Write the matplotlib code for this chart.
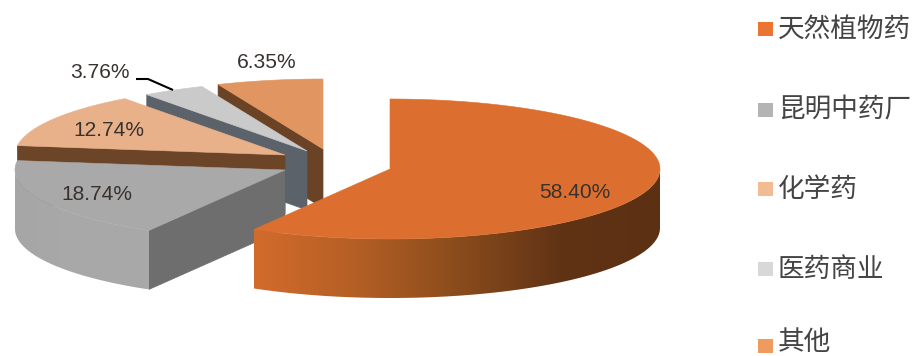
import numpy as np
import matplotlib
matplotlib.use("Agg")
import matplotlib.pyplot as plt
from matplotlib.colors import LinearSegmentedColormap
from matplotlib.patches import Polygon, Rectangle

plt.rcParams['font.family'] = ['Noto Sans CJK SC', 'DejaVu Sans']

categories = ['天然植物药', '昆明中药厂', '化学药', '医药商业', '其他']
shares = [58.40, 18.74, 12.74, 3.76, 6.35]

legend_colors = ['#ec7431', '#b4b4b4', '#f3bb92', '#d8d8d8', '#ef9a5e']
top_colors = ['#dc6f30', '#a9a9a9', '#e8b18a', '#cacaca', '#e19560']
cut_colors = ['#6b3c1c', '#6e6e6e', '#6c4529', '#5b6269', '#6a4225']
# Wall shading, listed from the left end of each wall to its right end
wall_stops = [
    ['#d26b2c', '#b45f24', '#8a4c1c', '#613315', '#5c3013'],
    ['#a6a6a6', '#a9a9a9', '#a8a8a8'],
    ['#e8b18a', '#e8b18a'],
    ['#cacaca', '#cacaca'],
    ['#e19560', '#e19560'],
]

# Hub position of each exploded slice, in figure pixels
hubs = [(390, 169), (285, 170), (285, 155), (307, 151), (323, 149)]
RX, RY, DEPTH = 270, 70, 59

# Slices are painted back to front so nearer ones overlap farther ones
paint_order = [4, 3, 2, 1, 0]

value_labels = ['58.40%', '18.74%', '12.74%', '3.76%', '6.35%']
label_xy = [(575, 192), (97, 195), (109, 131), (100, 73), (267, 63)]
legend_y = [29, 110, 189, 269, 346]
legend_text_y = [29, 110, 189, 269, 342]

fig = plt.figure(figsize=(9.14, 3.56), dpi=100, facecolor='white')
ax = fig.add_axes([0, 0, 1, 1])

total = sum(shares)
edges = np.concatenate([[0], np.cumsum(shares)]) / total * 2 * np.pi


def rim_point(hub, theta):
    # theta runs clockwise from twelve o'clock on the tilted ellipse
    return hub[0] + RX * np.sin(theta), hub[1] - RY * np.cos(theta)


def draw_slice(i, z):
    hub = hubs[i]
    start, stop = edges[i], edges[i + 1]

    # Cut faces: only those turned towards the viewer are drawn
    for theta, visible in ((start, np.sin(start) < 0), (stop, np.sin(stop) > 0)):
        if not visible:
            continue
        x, y = rim_point(hub, theta)
        ax.add_patch(Polygon([hub, (x, y), (x, y + DEPTH), (hub[0], hub[1] + DEPTH)],
                             closed=True, fc=cut_colors[i], ec=cut_colors[i], lw=0.5, zorder=z))

    # Outer wall: the near half of the arc, shaded by a horizontal gradient
    lo, hi = max(start, np.pi / 2), min(stop, 3 * np.pi / 2)
    if hi > lo:
        t = np.linspace(lo, hi, 160)
        x, y = rim_point(hub, t)
        outline = list(zip(x, y)) + list(zip(x[::-1], y[::-1] + DEPTH))
        wall = Polygon(outline, closed=True, fc='none', ec='none', transform=ax.transData)
        ax.add_patch(wall)
        shade = LinearSegmentedColormap.from_list('wall', wall_stops[i])
        ramp = np.linspace(0, 1, 512)[np.newaxis, :]
        image = ax.imshow(ramp, cmap=shade, aspect='auto', interpolation='bilinear',
                          extent=(x.min(), x.max(), y.max() + DEPTH, y.min()), zorder=z + 0.1)
        image.set_clip_path(wall)

    # Top face
    t = np.linspace(start, stop, 200)
    x, y = rim_point(hub, t)
    ax.add_patch(Polygon([hub] + list(zip(x, y)), closed=True,
                         fc=top_colors[i], ec=top_colors[i], lw=0.4, zorder=z + 0.2))


for z, i in enumerate(paint_order, start=1):
    draw_slice(i, z)

for text, (x, y) in zip(value_labels, label_xy):
    ax.text(x, y, text, family='Liberation Sans', fontsize=15.1, color='#38322f',
            ha='center', va='center', zorder=10)

# Leader line for the smallest slice
ax.plot([136, 148, 173], [79, 79, 90], color='black', lw=1.5, solid_capstyle='butt', zorder=10)

for name, color, y, text_y in zip(categories, legend_colors, legend_y, legend_text_y):
    ax.add_patch(Rectangle((758, y - 7), 15, 14, fc=color, ec='none', zorder=10))
    ax.text(778, text_y, name, fontsize=19.2, color='#444444', ha='left', va='center', zorder=10)

ax.set_xlim(0, 914)
ax.set_ylim(356, 0)
ax.axis('off')

fig.savefig('out.png', dpi=100, facecolor='white')
